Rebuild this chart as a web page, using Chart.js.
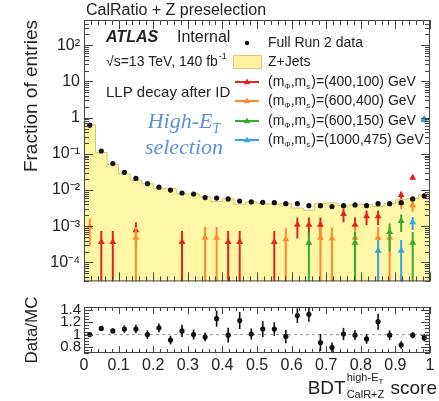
<!DOCTYPE html>
<html>
<head>
<meta charset="utf-8">
<script src="https://cdn.jsdelivr.net/npm/chart.js@4.4.1/dist/chart.umd.min.js"></script>
<style>
  body { margin: 0; background: #fff; }
  #wrap { position: relative; width: 439px; height: 401px; background: #fff; }
  canvas { position: absolute; left: 0; }
</style>
</head>
<body>
<div id="wrap">
  <canvas id="mainChart" width="439" height="295" style="top:0"></canvas>
  <canvas id="ratioChart" width="439" height="106" style="top:295px"></canvas>
</div>
<script>
  const nBins = 30;

  // fraction of entries, data and Z+jets MC (one value per bin)
  const dataFrac = [0.62, 0.12, 0.054, 0.031, 0.021, 0.015, 0.012, 0.010, 0.0083, 0.0078,
                    0.0062, 0.0060, 0.0057, 0.0050, 0.0047, 0.0046, 0.0045, 0.0042, 0.0042, 0.0037,
                    0.0037, 0.0035, 0.0037, 0.0039, 0.0037, 0.0042, 0.0042, 0.0045, 0.0057, 0.0069];
  const mcFrac = [0.63, 0.109, 0.051, 0.028, 0.019, 0.015, 0.0108, 0.011, 0.0078, 0.0078,
                  0.0065, 0.0048, 0.0058, 0.0041, 0.0047, 0.0042, 0.0041, 0.0043, 0.0032, 0.0028,
                  0.0043, 0.0044, 0.0037, 0.0039, 0.0040, 0.0035, 0.0042, 0.0054, 0.0058, 0.0073];

  // data / MC ratio
  const ratio = [1.00, 1.10, 1.06, 1.09, 1.09, 1.00, 1.11, 0.91, 1.06, 1.00,
                 0.96, 1.26, 0.99, 1.23, 1.01, 1.09, 1.09, 0.97, 1.31, 1.33,
                 0.87, 0.79, 1.01, 0.99, 0.93, 1.21, 0.99, 0.83, 0.99, 0.95];
  const ratioErr = [0.02, 0.03, 0.04, 0.06, 0.07, 0.07, 0.07, 0.07, 0.10, 0.08,
                    0.07, 0.13, 0.12, 0.14, 0.09, 0.13, 0.11, 0.11, 0.12, 0.12,
                    0.14, 0.08, 0.10, 0.08, 0.08, 0.13, 0.08, 0.06, 0.05, 0.06];

  // signal samples: bin index, fraction, stat error
  const sigLabels = ['(400,100) GeV', '(600,400) GeV', '(600,150) GeV', '(1000,475) GeV'];
  const sigColors = ['#e3231f', '#ff8a2e', '#2fae2f', '#2ea6e6'];

  const redBins = [1, 2, 4, 8, 12, 13, 16, 18, 19, 20, 22, 23, 24, 25, 27, 28, 29];
  const redVals = [3.7e-4, 3.7e-4, 7.8e-4, 3.7e-4, 3.7e-4, 3.7e-4, 3.7e-4, 1.1e-3, 1.1e-3, 1.1e-3,
                   2.2e-3, 1.1e-3, 1.9e-3, 1.9e-3, 7.3e-3, 2.2e-2, 0.88];
  const redErrs = [3.7e-4, 3.7e-4, 5.2e-4, 3.7e-4, 3.7e-4, 3.7e-4, 3.7e-4, 6.4e-4, 6.4e-4, 6.4e-4,
                   9.1e-4, 6.4e-4, 8.3e-4, 8.3e-4, 1.65e-3, 2.9e-3, 0.03];

  const orangeBins = [0, 4, 10, 11, 17, 20, 21, 23, 25, 26, 27, 28, 29];
  const orangeVals = [9.6e-4, 4.8e-4, 4.8e-4, 4.8e-4, 4.4e-4, 4.8e-4, 4.6e-4, 4.8e-4, 4.8e-4, 4.8e-4,
                      4.4e-3, 3.8e-3, 0.9];
  const orangeErrs = [6.8e-4, 4.8e-4, 4.8e-4, 4.8e-4, 4.4e-4, 4.8e-4, 4.6e-4, 4.8e-4, 4.8e-4, 4.8e-4,
                      1.4e-3, 1.3e-3, 0.03];

  const greenBins = [19, 23, 26, 27, 28, 29];
  const greenVals = [3.5e-4, 3.5e-4, 7.0e-4, 1.4e-3, 3.5e-4, 0.9];
  const greenErrs = [3.5e-4, 3.5e-4, 5.0e-4, 7.0e-4, 3.5e-4, 0.03];

  const blueBins = [25, 27, 28, 29];
  const blueVals = [2.1e-4, 2.1e-4, 1.3e-3, 0.88];
  const blueErrs = [2.1e-4, 2.1e-4, 5.1e-4, 0.15];

  const mainYTicks = [1e-4, 1e-3, 1e-2, 1e-1, 1, 10, 100];
  const ratioYTicks = [0.8, 1, 1.2, 1.4];
  const xTicks = [0, 0.1, 0.2, 0.3, 0.4, 0.5, 0.6, 0.7, 0.8, 0.9, 1];

  const FONT = '"Liberation Sans", Arial, sans-serif';
  const binCenter = i => (i + 0.5) / nBins;
  const sigPoints = (bins, vals) => bins.map((b, k) => ({ x: binCenter(b), y: vals[k] }));

  const supDigits = { '-': '\u207B', '0': '\u2070', '1': '\u00B9', '2': '\u00B2', '3': '\u00B3', '4': '\u2074' };
  function logLabel(v) {
    const e = Math.round(Math.log10(v));
    if (e === 0) return '1';
    if (e === 1) return '10';
    return '10' + String(e).split('').map(c => supDigits[c]).join('');
  }

  // vertical error bars, drawn just before each dataset's markers
  const errorBars = {
    id: 'errorBars',
    beforeDatasetDraw(chart, args) {
      const ds = chart.data.datasets[args.index];
      if (!ds.errs) return;
      const { ctx, chartArea: a } = chart;
      const xs = chart.scales.x, ys = chart.scales.y;
      ctx.save();
      ctx.beginPath();
      ctx.rect(a.left, a.top, a.width, a.height);
      ctx.clip();
      ctx.strokeStyle = ds.errColor;
      ctx.lineWidth = ds.errWidth;
      ds.data.forEach((p, i) => {
        const px = xs.getPixelForValue(p.x);
        const lo = p.y - ds.errs[i];
        const yHi = ys.getPixelForValue(p.y + ds.errs[i]);
        const yLo = lo > 0 ? ys.getPixelForValue(lo) : a.bottom;
        ctx.beginPath();
        ctx.moveTo(px, yHi);
        ctx.lineTo(px, Math.min(yLo, a.bottom));
        ctx.stroke();
      });
      ctx.restore();
    }
  };

  // ROOT style frame with inward ticks
  const frameTicks = {
    id: 'frameTicks',
    afterDatasetsDraw(chart, args, opts) {
      const { ctx, chartArea: a } = chart;
      const xs = chart.scales.x, ys = chart.scales.y;
      ctx.save();
      ctx.strokeStyle = '#444';
      ctx.lineWidth = 1;
      ctx.strokeRect(a.left + 0.5, a.top + 0.5, a.width - 1, a.height - 1);
      ctx.beginPath();
      for (let k = 0; k <= 50; k++) {
        const px = Math.round(xs.getPixelForValue(k / 50)) + 0.5;
        const len = k % 5 === 0 ? opts.xMajor : opts.xMinor;
        ctx.moveTo(px, a.bottom); ctx.lineTo(px, a.bottom - len);
        ctx.moveTo(px, a.top); ctx.lineTo(px, a.top + len);
      }
      opts.yTicks.forEach(([v, major]) => {
        if (v < ys.min || v > ys.max) return;
        const py = Math.round(ys.getPixelForValue(v)) + 0.5;
        const len = major ? 9 : 5;
        ctx.moveTo(a.left, py); ctx.lineTo(a.left + len, py);
        ctx.moveTo(a.right, py); ctx.lineTo(a.right - len, py);
      });
      ctx.stroke();
      ctx.restore();
    }
  };

  const logTickMarks = [];
  for (let e = -5; e <= 2; e++) {
    for (let k = 1; k <= 9; k++) logTickMarks.push([k * Math.pow(10, e), k === 1]);
  }
  const ratioTickMarks = [];
  for (let k = 14; k <= 29; k++) ratioTickMarks.push([k * 0.05, k % 4 === 0]);

  function drawTriangle(ctx, x, y, r, color) {
    ctx.fillStyle = color;
    ctx.beginPath();
    ctx.moveTo(x, y - r);
    ctx.lineTo(x + r * 0.9, y + r * 0.6);
    ctx.lineTo(x - r * 0.9, y + r * 0.6);
    ctx.closePath();
    ctx.fill();
  }

  // labels, ATLAS text and legend
  const annotations = {
    id: 'annotations',
    afterDraw(chart) {
      const ctx = chart.ctx;
      ctx.save();
      ctx.textBaseline = 'middle';
      ctx.textAlign = 'left';
      ctx.fillStyle = '#222';
      ctx.font = '16px ' + FONT;
      ctx.fillText('CalRatio + Z preselection', 86, 11);
      ctx.font = 'italic bold 16px ' + FONT;
      ctx.fillText('ATLAS', 106, 38);
      ctx.font = '16px ' + FONT;
      ctx.fillText('Internal', 177, 38);
      ctx.font = '14px ' + FONT;
      const lumi = '\u221As=13 TeV, 140 fb';
      ctx.fillText(lumi, 106, 62);
      const lw = ctx.measureText(lumi).width;
      ctx.font = '9px ' + FONT;
      ctx.fillText('-1', 106 + lw + 1, 57);
      ctx.font = '15px ' + FONT;
      ctx.fillText('LLP decay after ID', 106, 93);

      // selection label
      ctx.fillStyle = '#5d8fdc';
      ctx.font = 'italic 22px "Liberation Serif", serif';
      const w1 = ctx.measureText('High-E').width;
      ctx.font = 'italic 14px "Liberation Serif", serif';
      const w2 = ctx.measureText('T').width;
      let x0 = 184 - (w1 + w2) / 2;
      ctx.font = 'italic 22px "Liberation Serif", serif';
      ctx.fillText('High-E', x0, 122);
      ctx.font = 'italic 14px "Liberation Serif", serif';
      ctx.fillText('T', x0 + w1, 129);
      ctx.font = 'italic 22px "Liberation Serif", serif';
      ctx.textAlign = 'center';
      ctx.fillText('selection', 184, 148);
      ctx.textAlign = 'left';

      // legend
      const mx = 247, tx = 268;
      const rows = [43, 62, 82, 101, 121, 140];
      ctx.fillStyle = '#111';
      ctx.beginPath();
      ctx.arc(mx, rows[0], 2.2, 0, Math.PI * 2);
      ctx.fill();
      ctx.fillStyle = '#222';
      ctx.font = '14px ' + FONT;
      ctx.fillText('Full Run 2 data', tx, rows[0]);
      ctx.fillStyle = '#fff3a0';
      ctx.fillRect(233, rows[1] - 7, 29, 14);
      ctx.strokeStyle = '#f0c070';
      ctx.lineWidth = 1;
      ctx.strokeRect(233.5, rows[1] - 6.5, 28, 13);
      ctx.fillStyle = '#222';
      ctx.fillText('Z+Jets', tx, rows[1]);
      sigLabels.forEach((lab, k) => {
        const y = rows[k + 2];
        ctx.strokeStyle = sigColors[k];
        ctx.lineWidth = 2;
        ctx.beginPath();
        ctx.moveTo(235, y); ctx.lineTo(259, y);
        ctx.stroke();
        drawTriangle(ctx, mx, y, 3.6, sigColors[k]);
        ctx.fillStyle = '#222';
        let x = tx;
        ctx.font = '14px ' + FONT;
        ctx.fillText('(m', x, y); x += ctx.measureText('(m').width;
        ctx.font = '8px ' + FONT;
        ctx.fillText('\u03A6', x, y + 5); x += ctx.measureText('\u03A6').width;
        ctx.font = '14px ' + FONT;
        ctx.fillText(',m', x, y); x += ctx.measureText(',m').width;
        ctx.font = '8px ' + FONT;
        ctx.fillText('s', x, y + 5); x += ctx.measureText('s').width + 1;
        ctx.font = '14px ' + FONT;
        ctx.fillText(')=' + lab, x, y);
      });
      ctx.restore();
    }
  };

  // x-axis title with super/subscripts under the ratio panel
  const xTitle = {
    id: 'xTitle',
    afterDraw(chart) {
      const ctx = chart.ctx;
      ctx.save();
      ctx.fillStyle = '#222';
      ctx.textBaseline = 'middle';
      ctx.font = '19px ' + FONT;
      const wScore = ctx.measureText(' score').width;
      const wBDT = ctx.measureText('BDT').width;
      ctx.font = '11px ' + FONT;
      const wSub = ctx.measureText('CalR+Z').width;
      const xEnd = 437;
      const xScore = xEnd - wScore;
      const xSub = xScore - wSub - 1;
      const xBDT = xSub - wBDT - 1;
      ctx.font = '19px ' + FONT;
      ctx.fillText('BDT', xBDT, 94);
      ctx.fillText(' score', xScore, 94);
      ctx.font = '11px ' + FONT;
      ctx.fillText('CalR+Z', xSub, 100);
      ctx.fillText('high-E', xSub, 83);
      const wh = ctx.measureText('high-E').width;
      ctx.font = '8px ' + FONT;
      ctx.fillText('T', xSub + wh, 87);
      ctx.restore();
    }
  };

  const sigSets = [
    [redBins, redVals, redErrs],
    [orangeBins, orangeVals, orangeErrs],
    [greenBins, greenVals, greenErrs],
    [blueBins, blueVals, blueErrs]
  ].map(([b, v, e], k) => ({
    type: 'scatter',
    data: sigPoints(b, v),
    errs: e,
    errColor: sigColors[k],
    errWidth: 2,
    pointStyle: 'triangle',
    pointRadius: 4,
    backgroundColor: sigColors[k],
    borderColor: sigColors[k],
    borderWidth: 0,
    order: 4 - k
  }));

  const mcEdges = mcFrac.map((v, i) => ({ x: i / nBins, y: v }));
  mcEdges.push({ x: 1, y: mcFrac[nBins - 1] });

  new Chart(document.getElementById('mainChart'), {
    type: 'line',
    data: {
      datasets: [
        {
          type: 'scatter',
          data: dataFrac.map((v, i) => ({ x: binCenter(i), y: v })),
          pointRadius: 2.6,
          backgroundColor: '#111',
          borderWidth: 0,
          order: 0
        },
        ...sigSets,
        {
          type: 'line',
          data: mcEdges,
          stepped: true,
          fill: 'start',
          backgroundColor: '#fff7a6',
          borderColor: '#d6c660',
          borderWidth: 1,
          pointRadius: 0,
          order: 10
        }
      ]
    },
    options: {
      responsive: false,
      animation: false,
      layout: { padding: { top: 20, right: 9, bottom: 7, left: 0 } },
      plugins: { legend: { display: false }, tooltip: { enabled: false },
                 frameTicks: { xMajor: 9, xMinor: 5, yTicks: logTickMarks } },
      scales: {
        x: { type: 'linear', min: 0, max: 1, display: false },
        y: {
          type: 'logarithmic',
          min: 3e-5,
          max: 500,
          afterFit: s => { s.width = 84; },
          afterBuildTicks: s => { s.ticks = mainYTicks.map(v => ({ value: v })); },
          grid: { display: false, drawTicks: false },
          border: { display: false },
          ticks: {
            autoSkip: false,
            padding: 4,
            color: '#222',
            font: { family: FONT, size: 16 },
            callback: v => logLabel(v)
          },
          title: {
            display: true,
            text: 'Fraction of entries',
            align: 'end',
            color: '#222',
            font: { family: FONT, size: 19 },
            padding: { top: 20, bottom: 0 }
          }
        }
      }
    },
    plugins: [errorBars, frameTicks, annotations]
  });

  new Chart(document.getElementById('ratioChart'), {
    type: 'line',
    data: {
      datasets: [
        {
          type: 'scatter',
          data: ratio.map((v, i) => ({ x: binCenter(i), y: v })),
          errs: ratioErr,
          errColor: '#111',
          errWidth: 1.6,
          pointRadius: 2.6,
          backgroundColor: '#111',
          borderWidth: 0,
          order: 0
        },
        {
          type: 'line',
          data: [{ x: 0, y: 1 }, { x: 1, y: 1 }],
          borderColor: '#999',
          borderWidth: 1,
          borderDash: [3, 3],
          pointRadius: 0,
          order: 5
        }
      ]
    },
    options: {
      responsive: false,
      animation: false,
      layout: { padding: { top: 7, right: 9, bottom: 0, left: 0 } },
      plugins: { legend: { display: false }, tooltip: { enabled: false },
                 frameTicks: { xMajor: 7, xMinor: 4, yTicks: ratioTickMarks } },
      scales: {
        x: {
          type: 'linear',
          min: 0,
          max: 1,
          afterFit: s => { s.height = 48; },
          afterBuildTicks: s => { s.ticks = xTicks.map(v => ({ value: v })); },
          grid: { display: false, drawTicks: false },
          border: { display: false },
          ticks: {
            autoSkip: false,
            maxRotation: 0,
            padding: 3,
            color: '#222',
            font: { family: FONT, size: 16 },
            callback: v => String(v)
          }
        },
        y: {
          type: 'linear',
          min: 0.7,
          max: 1.45,
          afterFit: s => { s.width = 84; },
          afterBuildTicks: s => { s.ticks = ratioYTicks.map(v => ({ value: v })); },
          grid: { display: false, drawTicks: false },
          border: { display: false },
          ticks: {
            autoSkip: false,
            padding: 3,
            color: '#222',
            font: { family: FONT, size: 15 },
            callback: v => (v === 1 ? '1' : v.toFixed(1))
          },
          title: {
            display: true,
            text: 'Data/MC',
            color: '#222',
            font: { family: FONT, size: 17 },
            padding: { top: 22, bottom: 0 }
          }
        }
      }
    },
    plugins: [errorBars, frameTicks, xTitle]
  });
</script>
</body>
</html>
